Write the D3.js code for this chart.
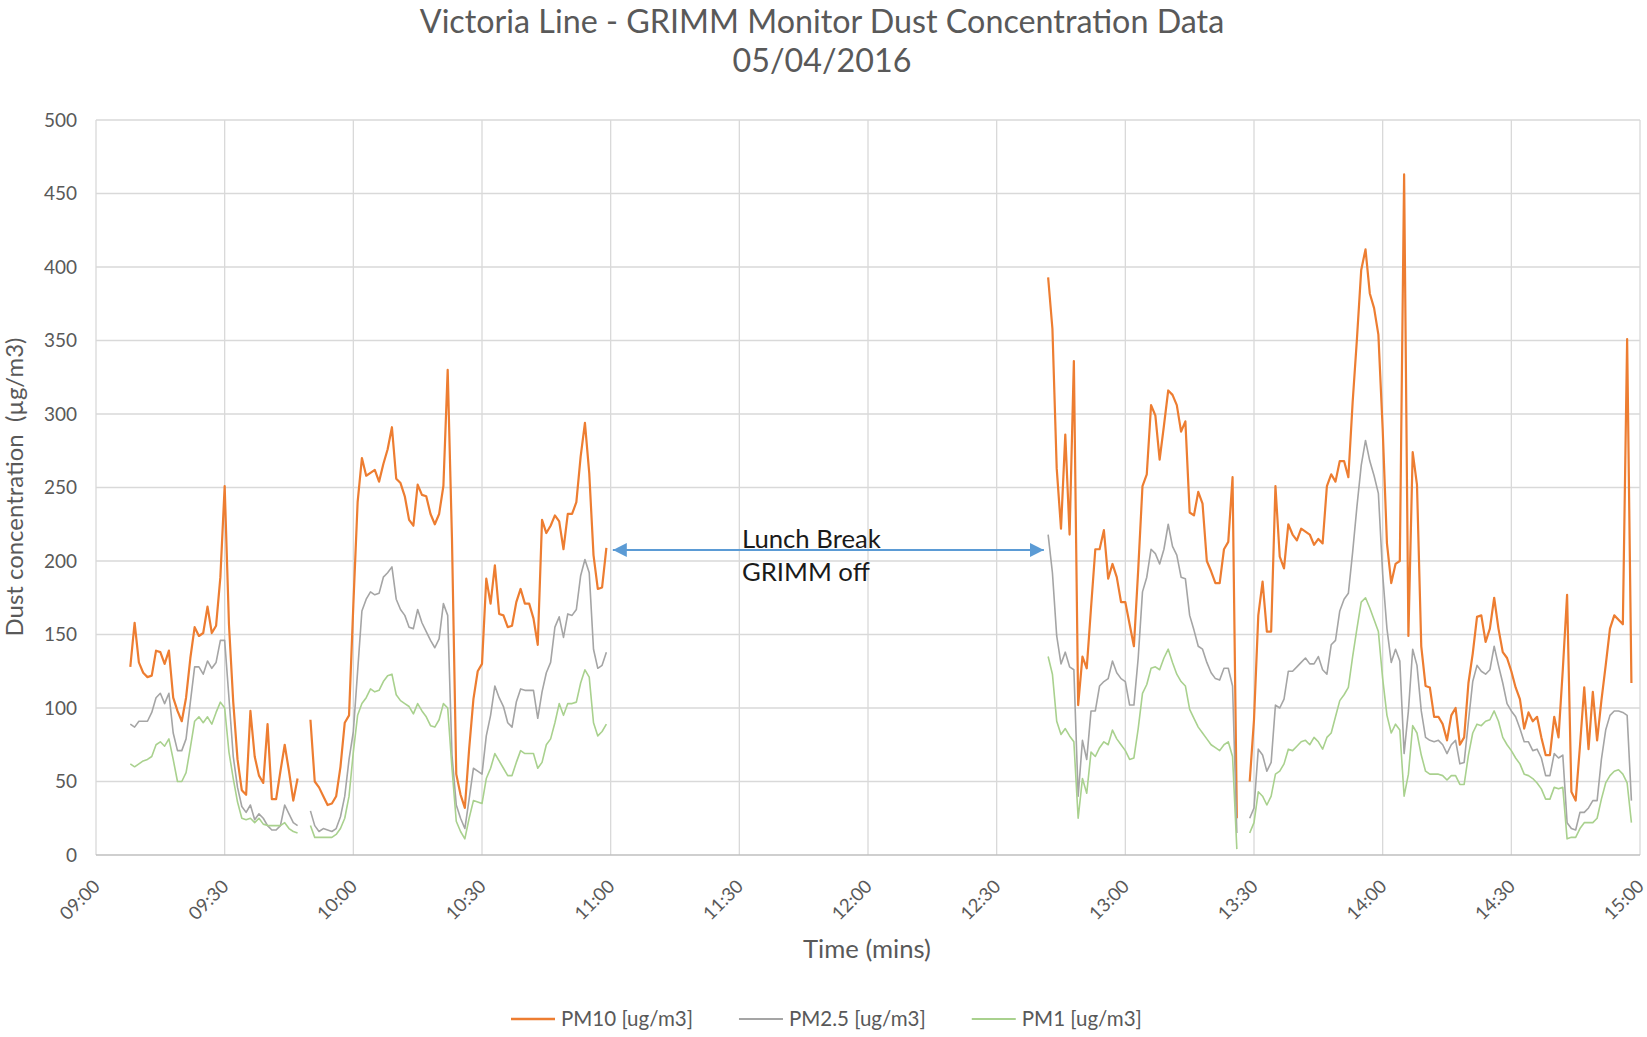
<!DOCTYPE html>
<html>
<head>
<meta charset="utf-8">
<script src="https://cdn.jsdelivr.net/npm/d3@7"></script>
<style>
  html, body { margin: 0; padding: 0; background: #ffffff; }
  svg { display: block; font-family: Lato, "Open Sans", sans-serif; }
</style>
</head>
<body>
<svg id="chart" width="1647" height="1037"></svg>
<script>
// ---------------- DATA ----------------
const titleLines = ["Victoria Line - GRIMM Monitor Dust Concentration Data", "05/04/2016"];
const xAxisTitle = "Time (mins)";
const yAxisTitle = "Dust concentration  (\u00b5g/m3)";
const timeTickLabels = ["09:00","09:30","10:00","10:30","11:00","11:30","12:00","12:30","13:00","13:30","14:00","14:30","15:00"];
const timeTickMinutes = [0,30,60,90,120,150,180,210,240,270,300,330,360];
const yTickValues = [0,50,100,150,200,250,300,350,400,450,500];
const seriesNames = ["PM10 [ug/m3]", "PM2.5 [ug/m3]", "PM1 [ug/m3]"];
const seriesColors = ["#ED7D31", "#A5A5A5", "#A9D18E"];

// start of each recorded segment, minutes after 09:00 (one reading per minute)
const segmentStartMinutes = [8, 50, 222, 269];

const pm10Values = [
  [128,158,131,124,121,122,139,138,130,139,107,98,91,107,134,155,149,151,169,151,
   156,189,251,157,104,65,44,41,98,67,54,49,89,38,38,57,75,57,37,52],
  [92,50,46,40,34,35,40,60,90,95,170,240,270,258,260,262,254,266,276,291,
   256,253,244,228,224,252,245,244,232,225,232,251,330,215,55,41,32,72,106,125,
   130,188,171,197,164,163,155,156,172,181,171,171,161,143,228,219,224,231,227,208,
   232,232,240,271,294,260,204,181,182,209],
  [393,358,263,222,286,218,336,102,135,127,168,208,208,221,188,198,189,172,172,157,
   142,194,251,259,306,299,269,292,316,313,306,288,295,233,231,247,239,200,193,185,
   185,208,213,257,25],
  [50,92,163,186,152,152,251,203,195,225,218,214,222,220,218,211,215,212,251,259,
   254,268,268,257,308,351,398,412,382,372,354,290,212,185,198,200,463,149,274,252,
   142,115,114,94,94,89,78,95,100,75,80,117,137,162,163,145,154,175,154,138,
   134,125,114,106,86,97,91,94,80,68,68,94,80,126,177,43,37,74,114,72,
   111,78,105,129,154,163,160,157,351,117]
];

const pm25Values = [
  [89,87,91,91,91,97,107,110,103,110,83,71,71,79,104,128,128,123,132,127,
   131,146,146,107,67,46,33,29,34,24,28,25,20,17,17,20,34,28,22,20],
  [30,20,16,18,17,16,18,26,40,65,84,125,166,174,179,177,178,189,192,196,
   174,167,163,155,154,167,158,152,146,141,147,171,163,68,34,25,18,38,59,57,
   55,81,95,115,107,101,90,87,104,113,112,112,112,93,111,124,131,155,162,148,
   164,163,167,190,201,192,140,127,129,138],
  [218,192,149,130,138,128,126,40,78,65,98,98,115,118,120,132,124,120,118,102,
   102,134,179,189,208,205,198,208,225,210,204,189,188,163,153,142,140,131,124,120,
   119,127,127,115,15],
  [25,32,72,68,57,63,102,100,106,125,125,128,131,134,130,130,135,126,123,143,
   146,166,174,178,206,237,265,282,268,258,246,191,154,131,140,132,69,98,140,129,
   98,80,78,77,78,75,69,75,78,62,63,91,118,129,125,123,126,142,129,117,
   103,98,94,86,77,77,71,72,66,54,54,69,66,68,22,18,17,29,29,32,
   37,37,65,85,95,98,98,97,95,37]
];

const pm1Values = [
  [62,60,62,64,65,67,75,77,74,79,65,50,50,56,73,91,94,90,94,89,
   97,104,100,70,52,36,25,24,25,22,25,21,20,20,20,20,22,18,16,15],
  [20,12,12,12,12,12,14,18,25,40,70,95,103,107,113,111,112,118,122,123,
   109,105,103,101,96,103,98,94,88,87,92,103,100,59,23,16,11,25,37,36,
   35,52,59,69,64,59,54,54,63,71,69,69,69,59,63,75,79,90,103,95,
   103,103,104,117,126,121,90,81,84,89],
  [135,123,91,82,86,81,77,25,52,42,70,67,73,77,75,85,79,75,71,65,
   66,86,110,116,127,128,126,134,140,131,123,118,115,99,93,87,83,79,75,73,
   71,75,77,67,4],
  [15,22,43,40,34,40,55,57,62,72,71,74,77,78,75,80,77,72,80,83,
   94,105,109,114,135,154,172,175,168,160,152,120,95,83,89,85,40,55,88,83,
   68,57,55,55,55,54,51,54,54,48,48,68,83,89,88,91,92,98,91,80,
   75,71,66,62,55,54,52,49,45,38,38,46,45,46,11,12,12,18,22,22,
   22,25,38,49,54,57,58,55,49,22]
];

// Annotation (in data units: minutes after 09:00, µg/m3)
const lunchLabel = ["Lunch Break", "GRIMM off"];
const lunchArrowMinutes = [120.5, 221];
const lunchArrowValue = 207.5;
const lunchTextMinute = 150.6;

// ---------------- CHART ----------------
const svg = d3.select("#chart");
const plot = { left: 96, right: 1640, top: 120, bottom: 855 };
const textColor = "#595959";

const x = d3.scaleLinear().domain([0, 360]).range([plot.left, plot.right]);
const y = d3.scaleLinear().domain([0, 500]).range([plot.bottom, plot.top]);

function fitWidth(sel, target) {
  const w = sel.node().getComputedTextLength();
  const fs = parseFloat(sel.attr("font-size"));
  const nfs = fs * target / w;
  sel.attr("font-size", nfs);
  return nfs;
}

// Gridlines
const grid = svg.append("g");
grid.selectAll("line.h").data(yTickValues.filter(d => d > 0)).join("line")
  .attr("x1", plot.left).attr("x2", plot.right)
  .attr("y1", d => y(d)).attr("y2", d => y(d))
  .attr("stroke", "#d9d9d9").attr("stroke-width", 1.3);
grid.selectAll("line.v").data(timeTickMinutes).join("line")
  .attr("x1", d => x(d)).attr("x2", d => x(d))
  .attr("y1", plot.top).attr("y2", plot.bottom)
  .attr("stroke", "#d9d9d9").attr("stroke-width", 1.3);

// Y axis
const yAxis = svg.append("g").attr("transform", `translate(${plot.left},0)`)
  .call(d3.axisLeft(y).tickValues(yTickValues).tickSize(0).tickPadding(19));
yAxis.select(".domain").remove();
yAxis.selectAll("text").attr("font-size", 19).attr("fill", textColor)
  .attr("font-family", "Lato, sans-serif");

// X axis
const xAxis = svg.append("g").attr("transform", `translate(0,${plot.bottom})`)
  .call(d3.axisBottom(x).tickValues(timeTickMinutes)
    .tickFormat((d, i) => timeTickLabels[i]).tickSize(0));
xAxis.select(".domain").remove();
xAxis.selectAll("text")
  .attr("font-size", 18.5).attr("fill", textColor).attr("font-family", "Lato, sans-serif")
  .attr("text-anchor", "end").attr("x", 0).attr("y", 0).attr("dy", "0.35em")
  .attr("transform", "translate(0,28) rotate(-45)");
svg.append("line")
  .attr("x1", plot.left).attr("x2", plot.right)
  .attr("y1", plot.bottom).attr("y2", plot.bottom)
  .attr("stroke", "#bfbfbf").attr("stroke-width", 1.6);

// Series
const allSeries = [pm10Values, pm25Values, pm1Values];
const widths = [2.2, 1.6, 1.6];
const line = d3.line().x(d => x(d.t)).y(d => y(d.v));
const seriesG = svg.append("g");
allSeries.forEach((segs, si) => {
  segs.forEach((vals, k) => {
    const pts = vals.map((v, i) => ({ t: segmentStartMinutes[k] + i, v }));
    seriesG.append("path").datum(pts)
      .attr("d", line).attr("fill", "none")
      .attr("stroke", seriesColors[si]).attr("stroke-width", widths[si])
      .attr("stroke-linejoin", "round");
  });
});

// Lunch break annotation
const defs = svg.append("defs");
["start", "end"].forEach(k => {
  defs.append("marker").attr("id", "arrow-" + k)
    .attr("viewBox", "0 0 10 10").attr("refX", k === "end" ? 10 : 0).attr("refY", 5)
    .attr("markerWidth", 7).attr("markerHeight", 7).attr("markerUnits", "strokeWidth")
    .attr("orient", "auto")
    .append("path")
    .attr("d", k === "end" ? "M0,0 L10,5 L0,10 Z" : "M10,0 L0,5 L10,10 Z")
    .attr("fill", "#5B9BD5");
});
svg.append("line")
  .attr("x1", x(lunchArrowMinutes[0])).attr("x2", x(lunchArrowMinutes[1]))
  .attr("y1", y(lunchArrowValue)).attr("y2", y(lunchArrowValue))
  .attr("stroke", "#5B9BD5").attr("stroke-width", 2)
  .attr("marker-start", "url(#arrow-start)").attr("marker-end", "url(#arrow-end)");
const lt1 = svg.append("text").attr("x", x(lunchTextMinute)).attr("y", y(lunchArrowValue) - 2)
  .attr("font-size", 22).attr("fill", "#1a1a1a").text(lunchLabel[0]);
const lfs = fitWidth(lt1, 139);
svg.append("text").attr("x", x(lunchTextMinute)).attr("y", y(lunchArrowValue) + 31)
  .attr("font-size", lfs).attr("fill", "#1a1a1a").text(lunchLabel[1]);

// Title
const t1 = svg.append("text").attr("x", 822).attr("y", 33).attr("text-anchor", "middle")
  .attr("font-size", 30).attr("fill", textColor).text(titleLines[0]);
const tfs = fitWidth(t1, 805);
svg.append("text").attr("x", 822).attr("y", 72).attr("text-anchor", "middle")
  .attr("font-size", tfs).attr("fill", textColor).text(titleLines[1]);

// Axis titles
const xt = svg.append("text").attr("x", 867).attr("y", 958).attr("text-anchor", "middle")
  .attr("font-size", 20).attr("fill", textColor).text(xAxisTitle);
fitWidth(xt, 128);
const yt = svg.append("text").attr("text-anchor", "middle")
  .attr("transform", "translate(23,487) rotate(-90)")
  .attr("font-size", 20).attr("fill", textColor).style("white-space", "pre").text(yAxisTitle);
fitWidth(yt, 299);

// Legend
const legendY = 1019;
const legend = svg.append("g");
let lx = 511;
let legendFs = null;
seriesNames.forEach((name, i) => {
  legend.append("line").attr("x1", lx).attr("x2", lx + 44)
    .attr("y1", legendY).attr("y2", legendY)
    .attr("stroke", seriesColors[i]).attr("stroke-width", widths[i] + 0.4);
  const tx = legend.append("text").attr("x", lx + 50).attr("y", legendY).attr("dy", "0.35em")
    .attr("font-size", legendFs || 20).attr("fill", textColor).text(name);
  if (legendFs === null) legendFs = fitWidth(tx, 132);
  lx = lx + 50 + tx.node().getComputedTextLength() + 46;
});
</script>
</body>
</html>
